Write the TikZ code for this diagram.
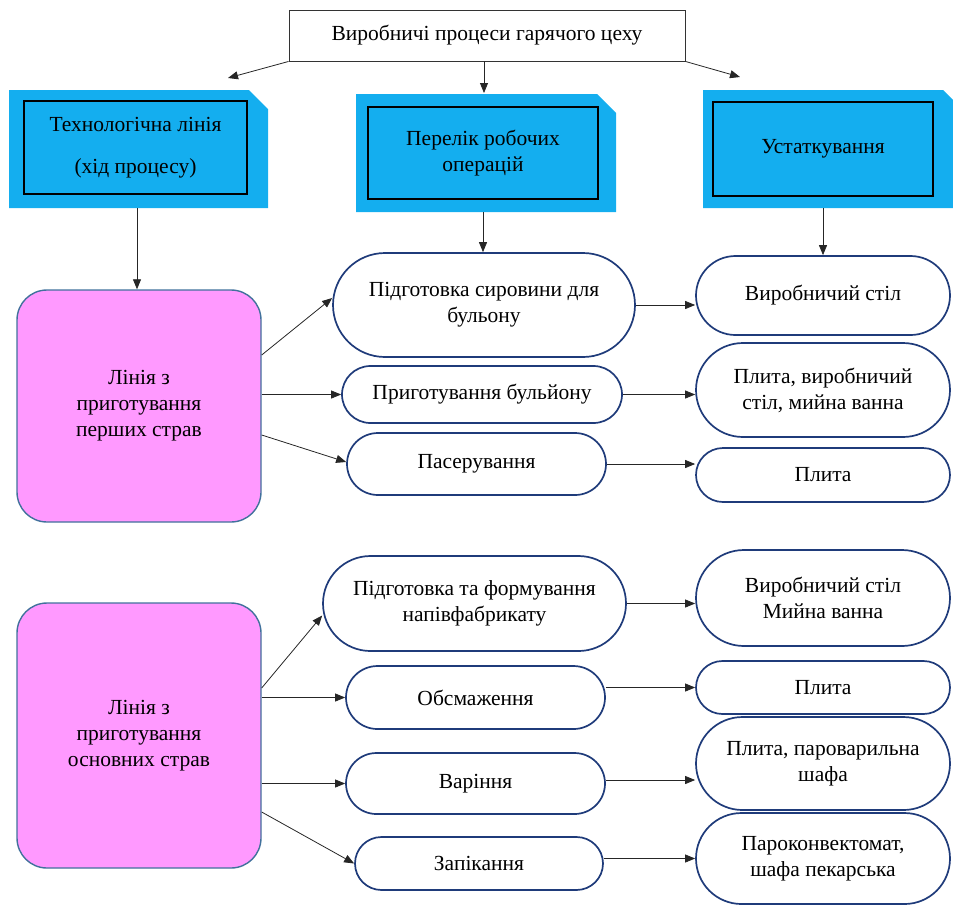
\documentclass[tikz,border=0pt]{standalone}
\usepackage{fontspec}
\setmainfont{Liberation Serif}
\usetikzlibrary{arrows.meta,shapes.misc}
\definecolor{hblue}{HTML}{14AEEF}
\definecolor{pinkf}{HTML}{FF99FF}
\definecolor{pinkb}{HTML}{41719C}
\definecolor{navy}{HTML}{1F3B7A}
\begin{document}
\begin{tikzpicture}[x=1pt,y=-1pt,
  every node/.style={font=\fontsize{21.5}{26}\selectfont, align=center},
  topbox/.style={draw=black!80, line width=0.9pt, fill=white, inner sep=0pt},
  hinner/.style={draw=black, line width=1.4pt, fill=hblue, inner sep=0pt},
  pinkbox/.style={draw=pinkb, line width=1.4pt, fill=pinkf, rounded corners=30pt, inner sep=0pt},
  oval/.style={rounded rectangle, draw=navy, line width=1.7pt, fill=white, inner sep=0pt},
  arr/.style={draw=black!85, line width=0.8pt, -{Triangle[length=10pt,width=8pt]}}
]
\useasboundingbox (0,0) rectangle (953,906);
% top box
\node[topbox, minimum width=396pt, minimum height=51pt] (T) at (487,35.5) {Виробничі процеси гарячого цеху};
% header shapes
\fill[hblue] (9,90) -- (249,90) -- (268,109) -- (268,208) -- (9,208) -- cycle;
\fill[hblue] (356,94) -- (597,94) -- (616,113) -- (616,212) -- (356,212) -- cycle;
\fill[hblue] (703,90) -- (943,90) -- (953,100) -- (953,208) -- (703,208) -- cycle;
\node[hinner, minimum width=223pt, minimum height=93pt] (H1) at (135.5,147.5) {Технологічна лінія\\[16pt](хід процесу)};
\node[hinner, minimum width=230pt, minimum height=92pt] (H2) at (483,153) {Перелік робочих\\операцій};
\node[hinner, minimum width=220pt, minimum height=94pt] (H3) at (823,149) {Устаткування};
\coordinate (h1b) at (137,208);
\coordinate (h2t) at (484,93);
\coordinate (h2b) at (483,212);
\coordinate (h3b) at (823,208);
\coordinate (tl) at (228,78);
\coordinate (tr) at (740,77);
% pink boxes
\node[pinkbox, minimum width=244pt, minimum height=232pt] (P1) at (139,406) {Лінія з\\приготування\\перших страв};
\node[pinkbox, minimum width=244pt, minimum height=265pt] (P2) at (139,735.5) {Лінія з\\приготування\\основних страв};
% middle ovals
\node[oval, minimum width=302pt, minimum height=104pt] (A) at (484,305) {Підготовка сировини для\\бульону};
\node[oval, minimum width=280pt, minimum height=57pt] (B) at (482,394.5) {Приготування бульйону};
\node[oval, minimum width=259pt, minimum height=62pt] (C) at (476.5,464) {Пасерування};
\node[oval, minimum width=303pt, minimum height=95pt] (D) at (474.5,603.5) {Підготовка та формування\\напівфабрикату};
\node[oval, minimum width=259pt, minimum height=63pt] (E) at (475.5,697.5) {Обсмаження};
\node[oval, minimum width=259pt, minimum height=61pt] (F) at (475.5,783.5) {Варіння};
\node[oval, minimum width=248pt, minimum height=53pt] (G) at (479,863.5) {Запікання};
% right ovals
\node[oval, minimum width=254pt, minimum height=79pt] (R1) at (823,295.5) {Виробничий стіл};
\node[oval, minimum width=254pt, minimum height=94pt] (R2) at (823,390) {Плита, виробничий\\стіл, мийна ванна};
\node[oval, minimum width=254pt, minimum height=54pt] (R3) at (823,475) {Плита};
\node[oval, minimum width=254pt, minimum height=96pt] (R4) at (823,598) {Виробничий стіл\\Мийна ванна};
\node[oval, minimum width=254pt, minimum height=53pt] (R5) at (823,687.5) {Плита};
\node[oval, minimum width=254pt, minimum height=93pt] (R6) at (823,763.5) {Плита, пароварильна\\шафа};
\node[oval, minimum width=254pt, minimum height=91pt] (R7) at (823,858.5) {Пароконвектомат,\\шафа пекарська};
% arrows from top
\draw[arr] (T.south west) -- (tl);
\draw[arr] (T.south east) -- (tr);
\draw[arr] (h2t |- T.south) -- (h2t);
% arrows from headers
\draw[arr] (h1b) -- (h1b |- P1.north);
\draw[arr] (h2b) -- (h2b |- A.north);
\draw[arr] (h3b) -- (h3b |- R1.north);
% pink 1
\draw[arr] ([yshift=51pt]P1.east) -- ([yshift=7pt]A.west);
\draw[arr] (P1.east |- B.west) -- (B.west);
\draw[arr] ([yshift=-29pt]P1.east) -- ([yshift=2pt]C.west);
% pink 2
\draw[arr] ([yshift=47.5pt]P2.east) -- ([yshift=-12pt]D.west);
\draw[arr] (P2.east |- E.west) -- (E.west);
\draw[arr] (P2.east |- F.west) -- (F.west);
\draw[arr] ([yshift=-76.5pt]P2.east) -- (G.west);
% middle to right
\draw[arr] (A.east) -- (A.east -| R1.west);
\draw[arr] (B.east) -- (B.east -| R2.west);
\draw[arr] (C.east) -- (C.east -| R3.west);
\draw[arr] (D.east) -- (D.east -| R4.west);
\draw[arr] (R5.west -| E.east) -- (R5.west);
\draw[arr] ([yshift=3.5pt]F.east) -- ([yshift=3.5pt]F.east -| R6.west);
\draw[arr] (R7.west -| G.east) -- (R7.west);
\end{tikzpicture}
\end{document}
